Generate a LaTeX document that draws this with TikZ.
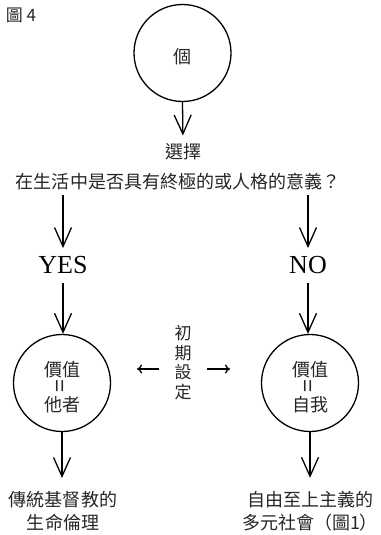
\documentclass[tikz,border=0pt]{standalone}
\usepackage{fontspec}
\setmainfont{Liberation Serif}
\newfontfamily\cjk{Noto Sans CJK TC}
\usetikzlibrary{arrows.meta}
\begin{document}
\begin{tikzpicture}[x=1pt,y=-1pt,
  cjktext/.style={font=\cjk\fontsize{18}{23}\selectfont, text=black!85, inner sep=0pt, align=center},
  eqsign/.style={font=\cjk\fontsize{23}{23}\selectfont, text=black!85, inner sep=0pt, rotate=90},
  circ/.style={draw, circle, line width=1.3pt, minimum size=97pt, inner sep=0pt},
  flow/.style={line width=1.3pt, -{Straight Barb[length=19pt,width=17pt,line width=1.3pt]}},
  side/.style={line width=1.3pt, -{Computer Modern Rightarrow[length=5pt,width=9pt]}},
  latin/.style={font=\fontsize{26}{26}\selectfont, inner sep=0pt}
]
\useasboundingbox (0,0) rectangle (380,535);
\node[cjktext, font=\cjk\fontsize{17}{17}\selectfont] (fig) at (21,15) {圖 4};
% top
\node[circ] (top) at (182.5,53) {};
\node[cjktext] (ge) at (182.5,57) {個};
\node[cjktext] (choose) at (183,152) {選擇};
\node[cjktext] (q) at (178,182) {在生活中是否具有終極的或人格的意義？};
\draw[flow, shorten >=8pt] (top.south) -- (choose.north);
% yes / no
\node[latin] (yes) at (63,265) {YES};
\node[latin] (no) at (308,265) {NO};
\draw[flow, shorten <=4pt, shorten >=8pt] (q.south -| yes.north) -- (yes.north);
\draw[flow, shorten <=4pt, shorten >=8pt] (q.south -| no.north) -- (no.north);
% value circles
\node[circ] (lc) at (62,383) {};
\node[cjktext] (lv) at (62,370) {價值};
\node[eqsign] (leq) at (62,386.5) {=};
\node[cjktext] (lo) at (62,405) {他者};
\node[circ] (rc) at (310,383) {};
\node[cjktext] (rv) at (310,370) {價值};
\node[eqsign] (req) at (310,386.5) {=};
\node[cjktext] (ro) at (310,405) {自我};
\draw[flow, shorten <=9pt] (yes.south) -- (yes.south |- lc.north);
\draw[flow, shorten <=9pt] (no.south) -- (no.south |- rc.north);
% initial setting
\node[cjktext, font=\cjk\fontsize{17}{19.7}\selectfont] (mid) at (183,362.5) {初\\期\\設\\定};
\coordinate (ls) at (159,369);
\coordinate (le) at (137,369);
\coordinate (rs) at (207,369);
\coordinate (re) at (230,369);
\draw[side] (ls) -- (le);
\draw[side] (rs) -- (re);
% bottom
\node[cjktext, font=\cjk\fontsize{18}{23}\selectfont] (lb) at (63,511) {傳統基督教的\\生命倫理};
\node[cjktext, font=\cjk\fontsize{18}{23}\selectfont] (rb) at (310,511) {自由至上主義的\\多元社會（圖1）};
\draw[flow, shorten >=13pt] (lc.south) -- (lc.south |- lb.north);
\draw[flow, shorten >=13pt] (rc.south) -- (rc.south |- rb.north);
\end{tikzpicture}
\end{document}
